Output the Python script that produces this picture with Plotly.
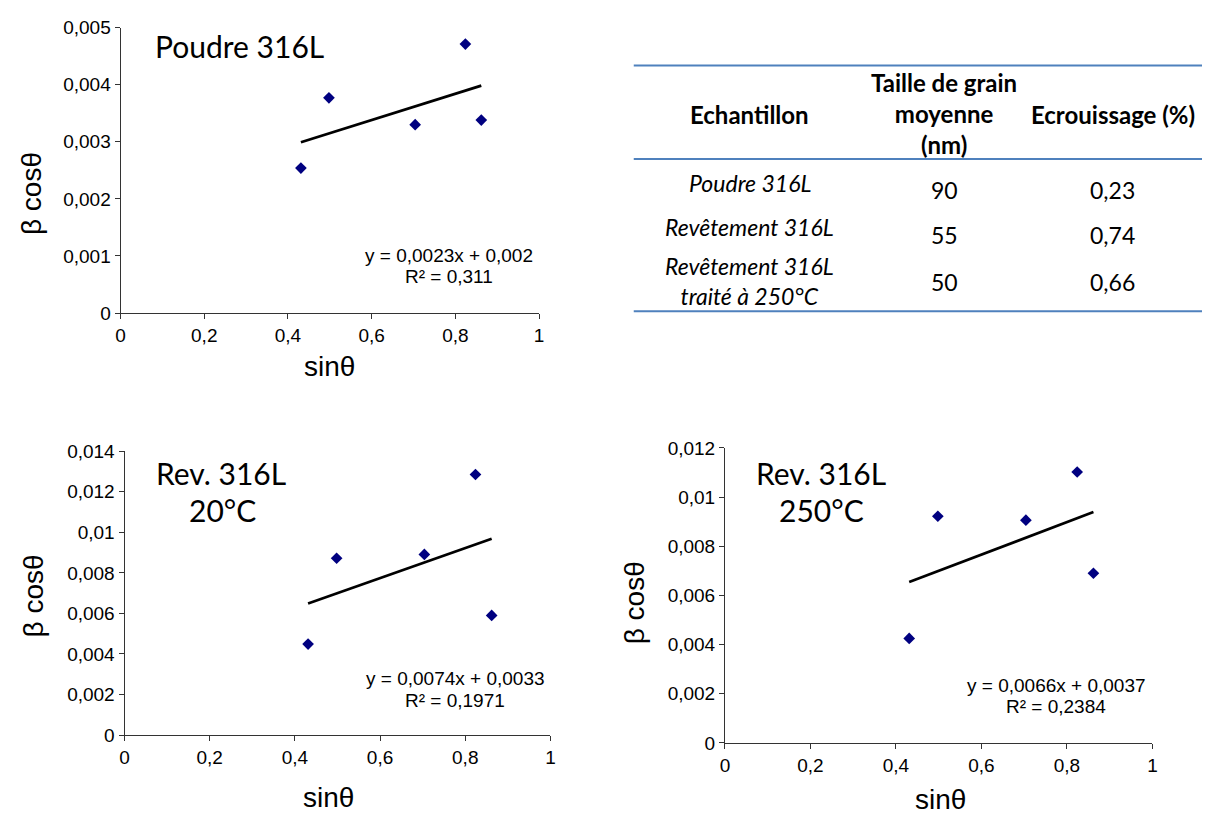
import plotly.graph_objects as go

W, H = 1207, 827

# ---------------- data ----------------
sin_theta = [0.431, 0.498, 0.704, 0.824, 0.862]
bcos_poudre = [0.00254, 0.00377, 0.00330, 0.00471, 0.00338]
bcos_rev20 = [0.00449, 0.00872, 0.00891, 0.01285, 0.00590]
bcos_rev250 = [0.00425, 0.00922, 0.00906, 0.01102, 0.00690]

slopes = [0.0023, 0.0074, 0.0066]
intercepts = [0.002, 0.0033, 0.0037]
equations = ["y = 0,0023x + 0,002", "y = 0,0074x + 0,0033", "y = 0,0066x + 0,0037"]
r2_labels = ["R² = 0,311", "R² = 0,1971", "R² = 0,2384"]

x_ticks = [0, 0.2, 0.4, 0.6, 0.8, 1]
x_ticktext = ["0", "0,2", "0,4", "0,6", "0,8", "1"]
y_ticks_1 = [0, 0.001, 0.002, 0.003, 0.004, 0.005]
y_ticktext_1 = ["0", "0,001", "0,002", "0,003", "0,004", "0,005"]
y_ticks_2 = [0, 0.002, 0.004, 0.006, 0.008, 0.010, 0.012, 0.014]
y_ticktext_2 = ["0", "0,002", "0,004", "0,006", "0,008", "0,01", "0,012", "0,014"]
y_ticks_3 = [0, 0.002, 0.004, 0.006, 0.008, 0.010, 0.012]
y_ticktext_3 = ["0", "0,002", "0,004", "0,006", "0,008", "0,01", "0,012"]

table_header = ["Echantillon", "Taille de grain<br>moyenne<br>(nm)", "Ecrouissage (%)"]
table_samples = ["Poudre 316L", "Revêtement 316L", "Revêtement 316L<br>traité à 250°C"]
table_grain = ["90", "55", "50"]
table_ecrouissage = ["0,23", "0,74", "0,66"]

# ---------------- helpers ----------------
def px(x):
    return x / W

def py(y):
    return 1 - y / H

AX_FONT = dict(family="Liberation Sans, Arial", size=19, color="#000000")
LBL_FONT = dict(family="Lato, Open Sans", size=30, color="#000000")
TBL_FONT = "Lato, Open Sans"

fig = go.Figure()

panels = [
    dict(ys=bcos_poudre, xa="x", ya="y", xd=[px(116.5), px(538.5)], yd=[py(311), py(18)],
         yr=[0, 0.005], yt=y_ticks_1, ytt=y_ticktext_1),
    dict(ys=bcos_rev20, xa="x2", ya="y2", xd=[px(120.5), px(550)], yd=[py(744), py(452.7)],
         yr=[0, 0.014], yt=y_ticks_2, ytt=y_ticktext_2),
    dict(ys=bcos_rev250, xa="x3", ya="y3", xd=[px(726), px(1157)], yd=[py(752), py(449.3)],
         yr=[0, 0.012], yt=y_ticks_3, ytt=y_ticktext_3),
]

for i, p in enumerate(panels):
    fig.add_trace(go.Scatter(
        x=sin_theta, y=p["ys"], mode="markers", xaxis=p["xa"], yaxis=p["ya"],
        marker=dict(symbol="diamond", size=9, color="#000080"), showlegend=False))
    x0, x1 = min(sin_theta), max(sin_theta)
    fig.add_trace(go.Scatter(
        x=[x0, x1], y=[slopes[i] * x0 + intercepts[i], slopes[i] * x1 + intercepts[i]],
        mode="lines", xaxis=p["xa"], yaxis=p["ya"],
        line=dict(color="#000000", width=2.7), showlegend=False))

axis_common = dict(showgrid=False, zeroline=False, showline=True, linecolor="#333333",
                   linewidth=1, ticks="outside", ticklen=5, tickcolor="#333333",
                   tickfont=AX_FONT)
layout_axes = {}
for i, p in enumerate(panels):
    sfx = "" if i == 0 else str(i + 1)
    layout_axes["xaxis" + sfx] = dict(axis_common, domain=p["xd"], range=[0, 1],
                                      tickvals=x_ticks, ticktext=x_ticktext,
                                      anchor="y" + sfx)
    layout_axes["yaxis" + sfx] = dict(axis_common, domain=p["yd"], range=p["yr"],
                                      tickvals=p["yt"], ticktext=p["ytt"],
                                      anchor="x" + sfx)

annotations = []

def ann(text, x, y, font, **kw):
    d = dict(text=text, x=px(x), y=py(y), xref="paper", yref="paper",
             showarrow=False, xanchor="center", yanchor="middle", font=font)
    d.update(kw)
    annotations.append(d)

TITLE_FONT = dict(family="Liberation Sans, Arial", size=28, color="#000000")
# axis titles
for (yx, yy), (xx, xy) in [((26, 188), (327, 366)), ((29, 601), (326, 808)),
                           ((635, 608), (943, 810))]:
    ann("β cosθ", yx, yy, TITLE_FONT, textangle=-90)
    ann("sinθ", xx, xy, TITLE_FONT)

# panel labels
ann("Poudre 316L", 236, 37, LBL_FONT)
ann("Rev. 316L", 218, 475, LBL_FONT)
ann("20°C", 219, 513, LBL_FONT)
ann("Rev. 316L", 823, 475, LBL_FONT)
ann("250°C", 823, 513, LBL_FONT)

# equations
EQ_FONT = dict(family="Liberation Sans, Arial", size=19, color="#000000")
for (cx, ey, ry), eq, r2 in zip([(448, 252, 273), (454, 686, 708), (1060, 693, 715)],
                                equations, r2_labels):
    ann(eq, cx, ey, EQ_FONT)
    ann(r2, cx, ry, EQ_FONT)

# table
col_x = [751, 947, 1117]
hdr_font = dict(family=TBL_FONT, size=24, color="#000000", weight="bold")
ann(table_header[0], col_x[0], 107, hdr_font)
ann(table_header[1], col_x[1], 106, hdr_font)
ann(table_header[2], col_x[2], 107, hdr_font)
row_name_y = [177, 223, 278]
row_num_y = [185, 231, 279]
row_font = dict(family=TBL_FONT, size=23, color="#000000")
for ny, vy, s, g, e in zip(row_name_y, row_num_y, table_samples, table_grain,
                           table_ecrouissage):
    ann(s, col_x[0], ny, dict(row_font, style="italic"))
    ann(g, col_x[1], vy, row_font)
    ann(e, col_x[2], vy, row_font)

shapes = []
for ly in [57, 153, 309]:
    shapes.append(dict(type="line", xref="paper", yref="paper", x0=px(634), x1=1,
                       y0=py(ly), y1=py(ly), line=dict(color="#4F81BD", width=2)))

fig.update_layout(width=W, height=H, margin=dict(l=0, r=0, t=0, b=0),
                  plot_bgcolor="white", paper_bgcolor="white",
                  annotations=annotations, shapes=shapes, **layout_axes)

fig.write_html("out.html", config={"displayModeBar": False},
               post_script="document.body.style.margin='0';"
                           "document.body.style.overflow='hidden';")
